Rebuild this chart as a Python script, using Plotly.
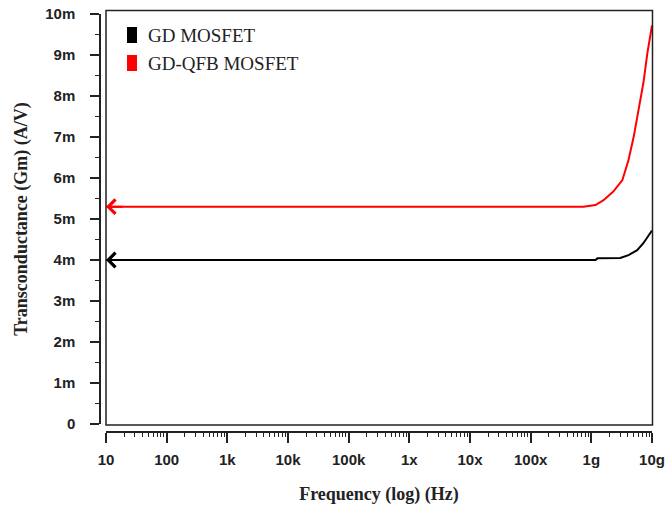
import math
import plotly.graph_objects as go

# ---- data ----
series_names = ["GD MOSFET", "GD-QFB MOSFET"]
series_colors = ["#000000", "#ff0000"]

freq_gd = [10, 1e8, 1.17e9, 1.26e9, 3.0e9, 4.1e9, 5.7e9, 7.2e9, 9.5e9, 1e10]
gm_gd = [4.0e-3, 4.0e-3, 4.0e-3, 4.04e-3, 4.05e-3, 4.12e-3, 4.24e-3, 4.41e-3, 4.67e-3, 4.72e-3]

freq_qfb = [10, 1e8, 7.4e8, 1.17e9, 1.59e9, 2.3e9, 3.25e9, 4.1e9, 5.0e9, 6.0e9, 7.2e9, 8.4e9, 9.5e9, 1e10]
gm_qfb = [5.3e-3, 5.3e-3, 5.3e-3, 5.34e-3, 5.46e-3, 5.67e-3, 5.95e-3, 6.44e-3, 7.01e-3,
          7.66e-3, 8.31e-3, 9.05e-3, 9.60e-3, 9.72e-3]

x_tickvals = [10, 100, 1e3, 1e4, 1e5, 1e6, 1e7, 1e8, 1e9, 1e10]
x_ticktext = ["10", "100", "1k", "10k", "100k", "1x", "10x", "100x", "1g", "10g"]
y_tickvals = [i * 1e-3 for i in range(11)]
y_ticktext = ["0"] + [f"{i}m" for i in range(1, 11)]

x_minor = [m * d for d in x_tickvals[:-1] for m in range(2, 10)]
y_minor = [(i + 0.5) * 1e-3 for i in range(10)]

xs = [freq_gd, freq_qfb]
ys = [gm_gd, gm_qfb]

fig = go.Figure()
for name, col, x, y in zip(series_names, series_colors, xs, ys):
    fig.add_trace(go.Scatter(x=x, y=y, mode="lines", name=name,
                             line=dict(color=col, width=2), showlegend=False))
    # left-pointing arrowhead at the start of each curve
    fig.add_annotation(x=math.log10(x[0]), y=y[0], ax=math.log10(x[0]) + 0.3, ay=y[0],
                       xref="x", yref="y", axref="x", ayref="y", text="",
                       showarrow=True, arrowhead=4, arrowsize=1.4, arrowwidth=2,
                       arrowcolor=col)

W, H = 667, 507
ml, mr, mt, mb = 100, 14, 10, 75
pw, ph = W - ml - mr, H - mt - mb

def px_x(p):
    return (p - ml) / pw

def px_y(p):
    return (H - mb - p) / ph

tick_font = dict(family="Liberation Sans", size=15, color="#222", weight="bold")
title_font = dict(family="Liberation Serif", size=18, color="#222", weight="bold")

fig.update_layout(
    width=W, height=H,
    margin=dict(l=ml, r=mr, t=mt, b=mb, autoexpand=False),
    paper_bgcolor="white", plot_bgcolor="white",
    xaxis=dict(
        type="log", range=[1, 10], domain=[px_x(106), px_x(652)],
        anchor="free", position=0, automargin=False, ticklabeloverflow="allow",
        showgrid=False, zeroline=False,
        showline=True, linecolor="#222", linewidth=1.5,
        tickvals=x_tickvals, ticktext=x_ticktext,
        ticks="outside", ticklen=10, tickwidth=1.5, tickcolor="#222",
        tickfont=tick_font, ticklabelstandoff=4,
        minor=dict(tickvals=x_minor, ticks="outside", ticklen=4, tickwidth=1, tickcolor="#222"),
        title=dict(text="Frequency (log) (Hz)", font=title_font, standoff=20),
    ),
    yaxis=dict(
        range=[0, 0.010], domain=[px_y(424), px_y(14)],
        anchor="free", position=0, automargin=False, ticklabeloverflow="allow",
        showgrid=False, zeroline=False,
        showline=True, linecolor="#222", linewidth=1.5,
        tickvals=y_tickvals, ticktext=y_ticktext,
        ticks="outside", ticklen=9, tickwidth=1.5, tickcolor="#222",
        tickfont=tick_font, ticklabelstandoff=12,
        minor=dict(tickvals=y_minor, ticks="outside", ticklen=4, tickwidth=1, tickcolor="#222"),
        title=dict(text="Transconductance (Gm) (A/V)", font=title_font, standoff=12),
    ),
)

# plot frame
fig.add_shape(type="rect", xref="paper", yref="paper",
              x0=px_x(106), x1=px_x(652.5), y0=px_y(425), y1=px_y(10.5),
              line=dict(color="#222", width=1.5), layer="above")

# legend (colored blocks + labels)
leg_y = [35, 63]
for name, col, yy in zip(series_names, series_colors, leg_y):
    fig.add_shape(type="rect", xref="paper", yref="paper",
                  x0=px_x(127), x1=px_x(137), y0=px_y(yy + 8), y1=px_y(yy - 8),
                  line=dict(width=0), fillcolor=col)
    fig.add_annotation(xref="paper", yref="paper", x=px_x(146), y=px_y(yy),
                       xanchor="left", yanchor="middle", showarrow=False,
                       text=name, font=dict(family="Liberation Serif", size=19, color="#222"))

# remove the default page margin so the figure fills the window exactly
fig.write_html("out.html", config={"displayModeBar": False},
               post_script="document.body.style.margin='0';")
